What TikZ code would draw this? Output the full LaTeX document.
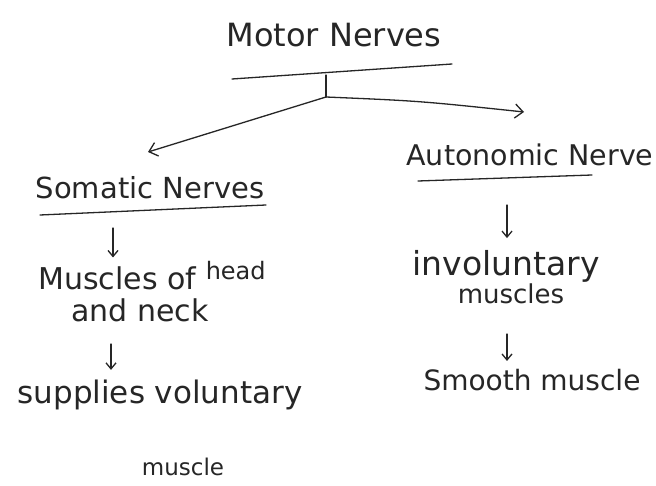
\documentclass[tikz,border=0pt]{standalone}
\usepackage{fontspec}
\setmainfont{DejaVu Sans}
\usetikzlibrary{arrows.meta}
\begin{document}
\begin{tikzpicture}[x=1pt,y=-1pt,
  hw/.style={font=\fontsize{#1}{32}\selectfont, inner sep=0pt, align=center, text=black!85},
  hw/.default=30,
  pen/.style={line width=1.3pt, draw=black!85, line cap=round},
  bigarr/.style={pen, -{Straight Barb[length=8pt,width=14pt,line width=1.3pt]}},
  smallarr/.style={pen, -{Straight Barb[length=6pt,width=10pt,line width=1.3pt]}}
]
\useasboundingbox[fill=white] (0,0) rectangle (656,486);

% nodes
\node[hw=32] (motor) at (334,35) {Motor Nerves};
\node[hw=29] (somatic) at (150,188) {Somatic Nerves};
\node[hw=28.5] (auto) at (530,155) {Autonomic Nerve};
\node[hw=30] (muscles) at (152,292) {Muscles of \raisebox{10pt}{\fontsize{24}{24}\selectfont head}\\and neck\hspace*{24pt}};
\node[hw=31] (supplies) at (160,428) {supplies voluntary\\[40pt]\hspace*{46pt}{\fontsize{23}{24}\selectfont muscle}};
\node[hw=33] (invol) at (506,277) {involuntary\\[-4pt]\hspace*{10pt}{\fontsize{26}{28}\selectfont muscles}};
\node[hw=28] (smooth) at (532,380) {Smooth muscle};

% underlines
\draw[pen] (232,79) -- (452,64);
\draw[pen] (40,215) -- (266,205);
\draw[pen] (418,181) -- (592,175);

% branch
\coordinate (j) at (326,97);
\coordinate (tipL) at (148,152);
\coordinate (tipR) at (524,112);
\draw[pen] (326,75) -- (j);
\draw[bigarr] (j) -- (tipL);
\draw[bigarr] (j) .. controls (420,101) .. (tipR);

% small down arrows
\coordinate (s1) at (113,228);
\draw[smallarr, shorten >=4pt] (s1) -- (s1 |- muscles.north);
\coordinate (s2) at (111,344);
\draw[smallarr, shorten >=10pt] (s2) -- (s2 |- supplies.north);
\coordinate (r1) at (507,205);
\draw[smallarr, shorten >=12pt] (r1) -- (r1 |- invol.north);
\coordinate (r2) at (507,334);
\draw[smallarr, shorten >=8pt] (r2) -- (r2 |- smooth.north);
\end{tikzpicture}
\end{document}
